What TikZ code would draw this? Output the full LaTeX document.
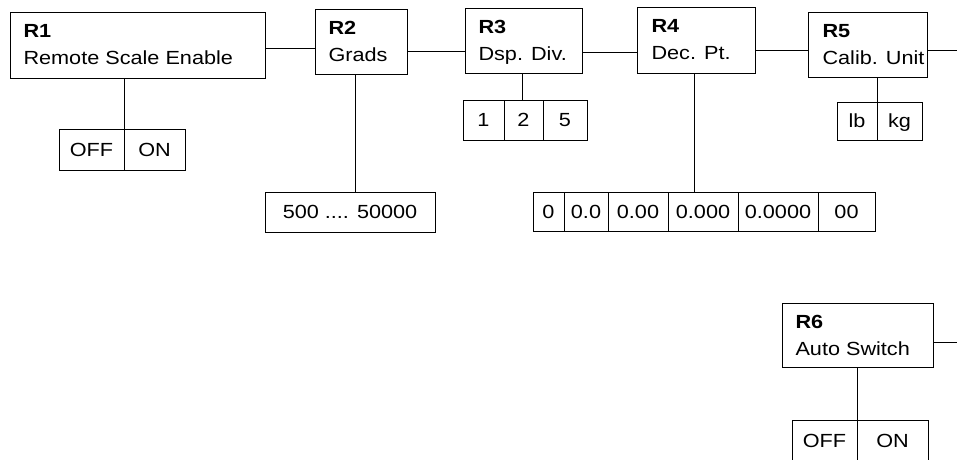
\documentclass[tikz,border=0pt]{standalone}
\usepackage{fontspec}
\setmainfont{Liberation Sans}[FakeStretch=1.14]
\begin{document}
\begin{tikzpicture}[x=1pt,y=-1pt,line width=1pt,
  box/.style={draw,rectangle,inner sep=0pt,anchor=north west},
  cell/.style={draw,rectangle,inner sep=0pt,text height=13.7pt,text depth=0pt},
  lbl/.style={anchor=base west,inner sep=0pt},
  link/.style={draw}]
\useasboundingbox (0,0) rectangle (957,459);
\clip (0,0) rectangle (957,459);
\fontsize{19}{27}\selectfont
% main boxes
\node[box,minimum width=255pt,minimum height=66pt] (R1) at (10,12) {};
\node[box,minimum width=92pt,minimum height=65pt] (R2) at (315,9) {};
\node[box,minimum width=117pt,minimum height=65pt] (R3) at (465,8) {};
\node[box,minimum width=118pt,minimum height=66pt] (R4) at (637,7) {};
\node[box,minimum width=119pt,minimum height=65pt] (R5) at (808,12) {};
\node[box,minimum width=151pt,minimum height=64pt] (R6) at (782,303) {};
% labels
\node[lbl] (R1a) at (23,37) {\bfseries R1};
\node[lbl] (R1b) at (23,64) {Remote Scale Enable};
\node[lbl] (R2a) at (328,34) {\bfseries R2};
\node[lbl] (R2b) at (328,61) {Grads};
\node[lbl] (R3a) at (478,33) {\bfseries R3};
\node[lbl] (R3b) at (478,60) {Dsp. Div.};
\node[lbl] (R4a) at (651,32) {\bfseries R4};
\node[lbl] (R4b) at (651,59) {Dec. Pt.};
\node[lbl] (R5a) at (822,37) {\bfseries R5};
\node[lbl] (R5b) at (822,64) {Calib. Unit};
\node[lbl] (R6a) at (795,328) {\bfseries R6};
\node[lbl] (R6b) at (795,355) {Auto Switch};
% option cells
\node[cell,minimum width=65pt,minimum height=41pt] (o1a) at (91.5,149.5) {OFF};
\node[cell,minimum width=61pt,minimum height=41pt] (o1b) at (154.5,149.5) {ON};
\node[cell,minimum width=170pt,minimum height=40pt] (rng) at (350,212) {500 .... 50000};
\node[cell,minimum width=41pt,minimum height=40pt] (d1) at (483.5,120) {1};
\node[cell,minimum width=39pt,minimum height=40pt] (d2) at (523.5,120) {2};
\node[cell,minimum width=44pt,minimum height=40pt] (d5) at (565,120) {5};
\node[cell,minimum width=31pt,minimum height=39pt] (p0) at (548.5,211.5) {0};
\node[cell,minimum width=44pt,minimum height=39pt] (p1) at (586,211.5) {0.0};
\node[cell,minimum width=60pt,minimum height=39pt] (p2) at (638,211.5) {0.00};
\node[cell,minimum width=70pt,minimum height=39pt] (p3) at (703,211.5) {0.000};
\node[cell,minimum width=80pt,minimum height=39pt] (p4) at (778,211.5) {0.0000};
\node[cell,minimum width=57pt,minimum height=39pt] (p5) at (846.5,211.5) {00};
\node[cell,minimum width=40pt,minimum height=38pt] (ulb) at (857,121) {lb};
\node[cell,minimum width=45pt,minimum height=38pt] (ukg) at (899.5,121) {kg};
\node[cell,minimum width=65pt,minimum height=42pt] (o6a) at (824.5,441) {OFF};
\node[cell,minimum width=71pt,minimum height=42pt] (o6b) at (892.5,441) {ON};
% helper coordinates
\coordinate (h12) at (0,48);
\coordinate (h23) at (0,51);
\coordinate (h34) at (0,52);
\coordinate (h45) at (0,50);
\coordinate (e5) at (957,50);
\coordinate (e6) at (957,342);
\coordinate (v2) at (355,0);
\coordinate (v3) at (522,0);
\coordinate (v4) at (694,0);
% horizontal links
\draw (R1.east |- h12) -- (R2.west |- h12);
\draw (R2.east |- h23) -- (R3.west |- h23);
\draw (R3.east |- h34) -- (R4.west |- h34);
\draw (R4.east |- h45) -- (R5.west |- h45);
\draw (R5.east |- e5) -- (e5);
\draw (R6.east |- e6) -- (e6);
% vertical links
\draw (o1a.north east |- R1.south) -- (o1a.south east);
\draw (R2.south -| v2) -- (rng.north -| v2);
\draw (R3.south -| v3) -- (d2.north -| v3);
\draw (R4.south -| v4) -- (p3.north -| v4);
\draw (ulb.north east |- R5.south) -- (ulb.north east);
\draw (o6a.north east |- R6.south) -- (o6a.south east);
\end{tikzpicture}
\end{document}
